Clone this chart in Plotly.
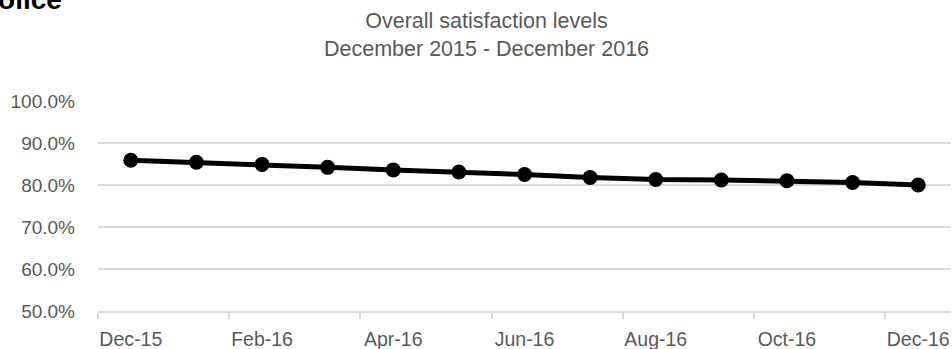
import plotly.graph_objects as go

# Monthly overall satisfaction (%)
months = ["Dec-15", "Jan-16", "Feb-16", "Mar-16", "Apr-16", "May-16", "Jun-16",
          "Jul-16", "Aug-16", "Sep-16", "Oct-16", "Nov-16", "Dec-16"]
satisfaction = [85.9, 85.4, 84.9, 84.2, 83.6, 83.1, 82.5, 81.8, 81.3, 81.2, 81.0, 80.6, 80.0]

title_lines = ["Overall satisfaction levels", "December 2015 - December 2016"]

W, H = 952, 349
L, R, T, B = 98, 1, 101, 38
plot_w = W - L - R
plot_h = H - T - B

FONT = "Liberation Sans, Arial, sans-serif"
GREY_TXT = "#595959"
GRID = "#d9d9d9"


def px_x(px):
    return (px - L) / plot_w


def px_y(py):
    return (H - B - py) / plot_h


fig = go.Figure()
fig.add_trace(go.Scatter(
    x=months, y=satisfaction, mode="lines+markers",
    line=dict(color="black", width=5),
    marker=dict(color="black", size=15),
    showlegend=False, hoverinfo="x+y",
))

fig.update_layout(
    width=W, height=H,
    margin=dict(l=L, r=R, t=T, b=B, pad=0),
    paper_bgcolor="white", plot_bgcolor="white",
    font=dict(family=FONT, color=GREY_TXT, size=19),
    xaxis=dict(
        type="category", tickmode="linear", tick0=0, dtick=2,
        tickson="boundaries", ticks="outside", ticklen=6, tickwidth=1.5,
        tickcolor=GRID, showline=True, linecolor=GRID, linewidth=1.5,
        showgrid=False, zeroline=False, tickangle=0, automargin=False,
        ticklabelstandoff=10,
        range=[-0.5, 12.5],
        tickfont=dict(family=FONT, size=19.5, color=GREY_TXT),
    ),
    yaxis=dict(
        range=[50, 100], tick0=50, dtick=10, tickformat=".1f", ticksuffix="%",
        showgrid=True, gridcolor=GRID, gridwidth=1.5, zeroline=False,
        showline=False, ticks="", ticklabelstandoff=22, automargin=False,
        tickfont=dict(family=FONT, size=19, color=GREY_TXT),
    ),
    annotations=[
        dict(
            text="<br>".join(title_lines), xref="paper", yref="paper",
            x=px_x(486), xanchor="center", y=px_y(7), yanchor="top",
            showarrow=False, align="center",
            font=dict(family=FONT, size=21.5, color=GREY_TXT),
        ),
        dict(
            text="<b>police</b>", xref="paper", yref="paper",
            x=px_x(64), xanchor="right", y=px_y(17), yanchor="bottom",
            showarrow=False, font=dict(family=FONT, size=28, color="black"),
        ),
    ],
)

fig.write_html("out.html")
